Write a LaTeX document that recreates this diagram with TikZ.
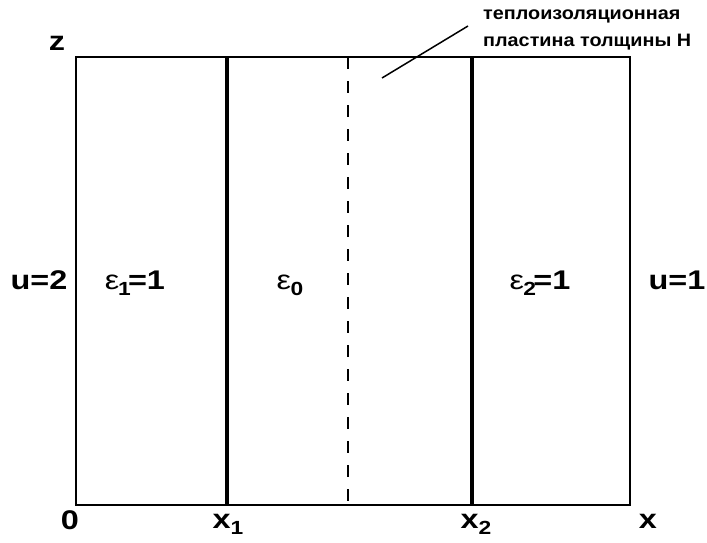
\documentclass[tikz,border=0pt]{standalone}
\usepackage{fontspec}
\setmainfont{Liberation Sans}
\newfontfamily\lblfont[FakeStretch=1.2]{Liberation Sans}
\newfontfamily\rufont[FakeStretch=1.1]{Liberation Sans}
\tikzset{
  lbl/.style={font=\lblfont\fontsize{27}{27}\selectfont\bfseries, inner sep=0pt, anchor=base},
  small/.style={font=\rufont\fontsize{18}{27}\selectfont\bfseries, inner sep=0pt, anchor=base west},
  frame/.style={line width=2pt},
  wall/.style={line width=4.2pt},
  plate/.style={line width=2.2pt, dash pattern=on 12pt off 12pt}
}
\newcommand{\eps}{{\fontsize{27}{27}\selectfont\mdseries ε}}
\newcommand{\sbs}[1]{\raisebox{-0.25em}{\fontsize{19}{19}\selectfont\bfseries #1}}
\begin{document}
\begin{tikzpicture}[x=1pt,y=-1pt]
\useasboundingbox (0,0) rectangle (707,542);
\coordinate (bl) at (76,505);
\coordinate (tr) at (630,57);
\draw[frame] (bl) rectangle (tr);
\coordinate (a1) at (227,57); \coordinate (a2) at (227,505);
\coordinate (b1) at (472,57); \coordinate (b2) at (472,505);
\coordinate (d1) at (348,57); \coordinate (d2) at (348,505);
\draw[wall] (a1) -- (a2);
\draw[wall] (b1) -- (b2);
\draw[plate] (d1) -- (d2);
\node[small] (t1) at (483,19) {теплоизоляционная};
\node[small] (t2) at (483,46) {пластина толщины H};
\coordinate (l1) at (382,78); \coordinate (l2) at (468,26);
\draw[line width=1.5pt] (l1) -- (l2);
\node[lbl] (z) at (57,50) {z};
\node[lbl] (u2) at (39,289) {u=2};
\node[lbl] (e1) at (135,289) {\eps\kern-0.05em\sbs{1}\kern-0.1em=1};
\node[lbl] (e0) at (290,289) {\eps\kern-0.02em\sbs{0}};
\node[lbl] (e2) at (540,289) {\eps\kern-0.02em\sbs{2}\kern-0.1em=1};
\node[lbl] (u1) at (677,289) {u=1};
\node[lbl] (o) at (70,529) {0};
\node[lbl] (x1) at (228,528) {x\sbs{1}};
\node[lbl] (x2) at (476,528) {x\sbs{2}};
\node[lbl] (x) at (648,528) {x};
\end{tikzpicture}
\end{document}
